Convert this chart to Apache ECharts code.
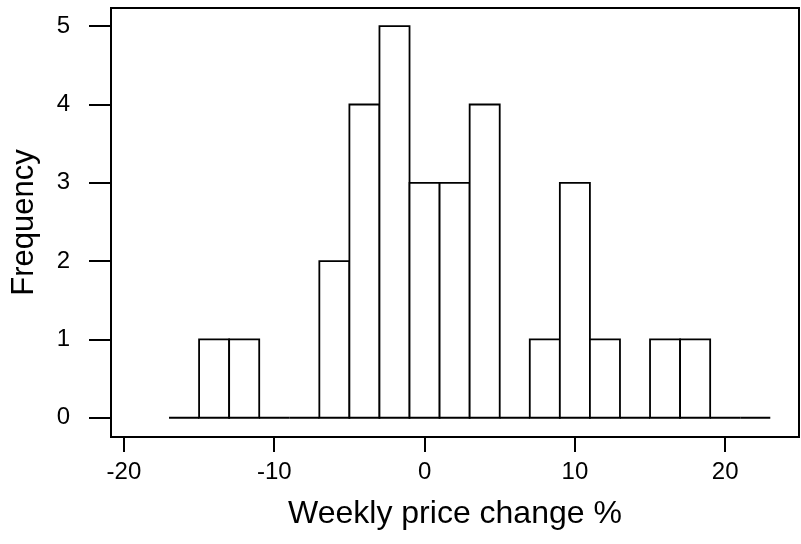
<!DOCTYPE html>
<html>
<head>
<meta charset="utf-8">
<script src="https://cdn.jsdelivr.net/npm/echarts@6/dist/echarts.min.js"></script>
<style>
  html, body { margin: 0; padding: 0; background: #fff; }
  #chart { width: 801px; height: 544px; }
</style>
</head>
<body>
<div id="chart"></div>
<script>
// Histogram bins (width 2) and their counts
const binStarts = [-17, -15, -13, -11, -9, -7, -5, -3, -1, 1, 3, 5, 7, 9, 11, 13, 15, 17, 19, 21];
const binWidth = 2;
const counts = [0, 1, 1, 0, 0, 2, 4, 5, 3, 3, 4, 0, 1, 3, 1, 0, 1, 1, 0, 0];

// Axis tick labels
const xTicks = [-20, -10, 0, 10, 20];
const yTicks = [0, 1, 2, 3, 4, 5];

const xTitle = 'Weekly price change %';
const yTitle = 'Frequency';

const bins = binStarts.map((s, i) => [s, s + binWidth, counts[i]]);

const font = 'Liberation Sans, Arial, sans-serif';
const chart = echarts.init(document.getElementById('chart'));

chart.setOption({
  animation: false,
  backgroundColor: '#fff',
  grid: {
    left: 111, right: 2, top: 8, bottom: 107,
    show: true, borderColor: '#000', borderWidth: 2, backgroundColor: 'transparent'
  },
  xAxis: {
    type: 'value',
    position: 'bottom',
    min: -20.86, max: 24.91,
    splitLine: { show: false },
    axisLine: { show: false, onZero: false },
    axisTick: { show: true, inside: false, customValues: xTicks, length: 15, lineStyle: { color: '#000', width: 2 } },
    axisLabel: { customValues: xTicks, margin: 23, color: '#000', fontSize: 24, fontFamily: font },
    name: xTitle,
    nameLocation: 'middle',
    nameGap: 61,
    nameTextStyle: { color: '#000', fontSize: 32, fontFamily: font }
  },
  yAxis: {
    type: 'value',
    position: 'left',
    min: -0.246, max: 5.232,
    splitLine: { show: false },
    axisLine: { show: false, onZero: false },
    axisTick: { show: true, inside: false, customValues: yTicks, length: 22, lineStyle: { color: '#000', width: 2 } },
    axisLabel: { customValues: yTicks, margin: 41, color: '#000', fontSize: 24, fontFamily: font },
    name: yTitle,
    nameLocation: 'middle',
    nameGap: 71,
    nameTextStyle: { color: '#000', fontSize: 31, fontFamily: font }
  },
  series: [{
    type: 'custom',
    data: bins,
    encode: { x: [0, 1], y: 2 },
    renderItem: function (params, api) {
      const p0 = api.coord([api.value(0), 0]);
      const p1 = api.coord([api.value(1), api.value(2)]);
      return {
        type: 'rect',
        shape: { x: p0[0], y: p1[1], width: p1[0] - p0[0], height: p0[1] - p1[1] },
        style: { fill: '#fff', stroke: '#000', lineWidth: 1.8 }
      };
    }
  }]
});
</script>
</body>
</html>
